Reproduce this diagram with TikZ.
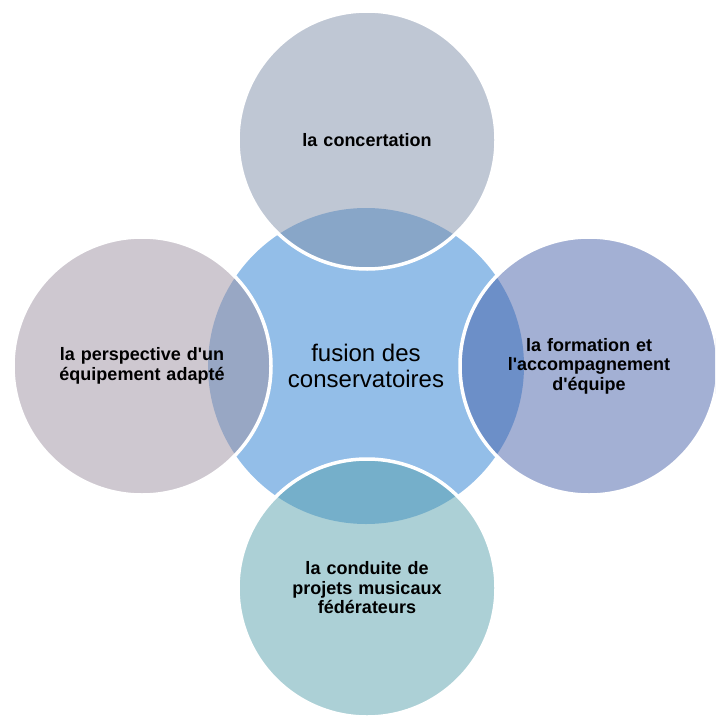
\documentclass[tikz,border=0pt]{standalone}
\usepackage{fontspec}
\newfontfamily\arialf{Liberation Sans}
\definecolor{cmain}{RGB}{147,190,232}
\definecolor{ctop}{RGB}{127,143,169}
\definecolor{cright}{RGB}{71,97,169}
\definecolor{cbottom}{RGB}{89,161,173}
\definecolor{cleft}{RGB}{157,145,161}
\tikzset{
  sat/.style={circle, minimum size=258pt, inner sep=0pt, fill opacity=0.5, text opacity=1,
    draw=white, line width=3.5pt, align=center, text width=210pt,
    font=\arialf\bfseries\fontsize{18}{19.5}\selectfont},
  hub/.style={circle, fill=cmain, minimum size=316pt, inner sep=0pt, align=center,
    font=\arialf\fontsize{24}{25.5}\selectfont}
}
\begin{document}
\begin{tikzpicture}[x=1pt,y=-1pt]
\useasboundingbox (0,0) rectangle (715,717);
\clip (0,0) rectangle (715,717);
\node[hub] (center) at (366,366) {fusion des\\conservatoires};
\node[sat, fill=ctop] (top) at (367,140) {la concertation};
\node[sat, fill=cright] (right) at (589,366) {la formation et\\l'accompagnement\\d'équipe};
\node[sat, fill=cbottom] (bottom) at (367,588) {la conduite de\\projets musicaux\\fédérateurs};
\node[sat, fill=cleft] (left) at (142,366) {la perspective d'un\\équipement adapté};
\end{tikzpicture}
\end{document}
